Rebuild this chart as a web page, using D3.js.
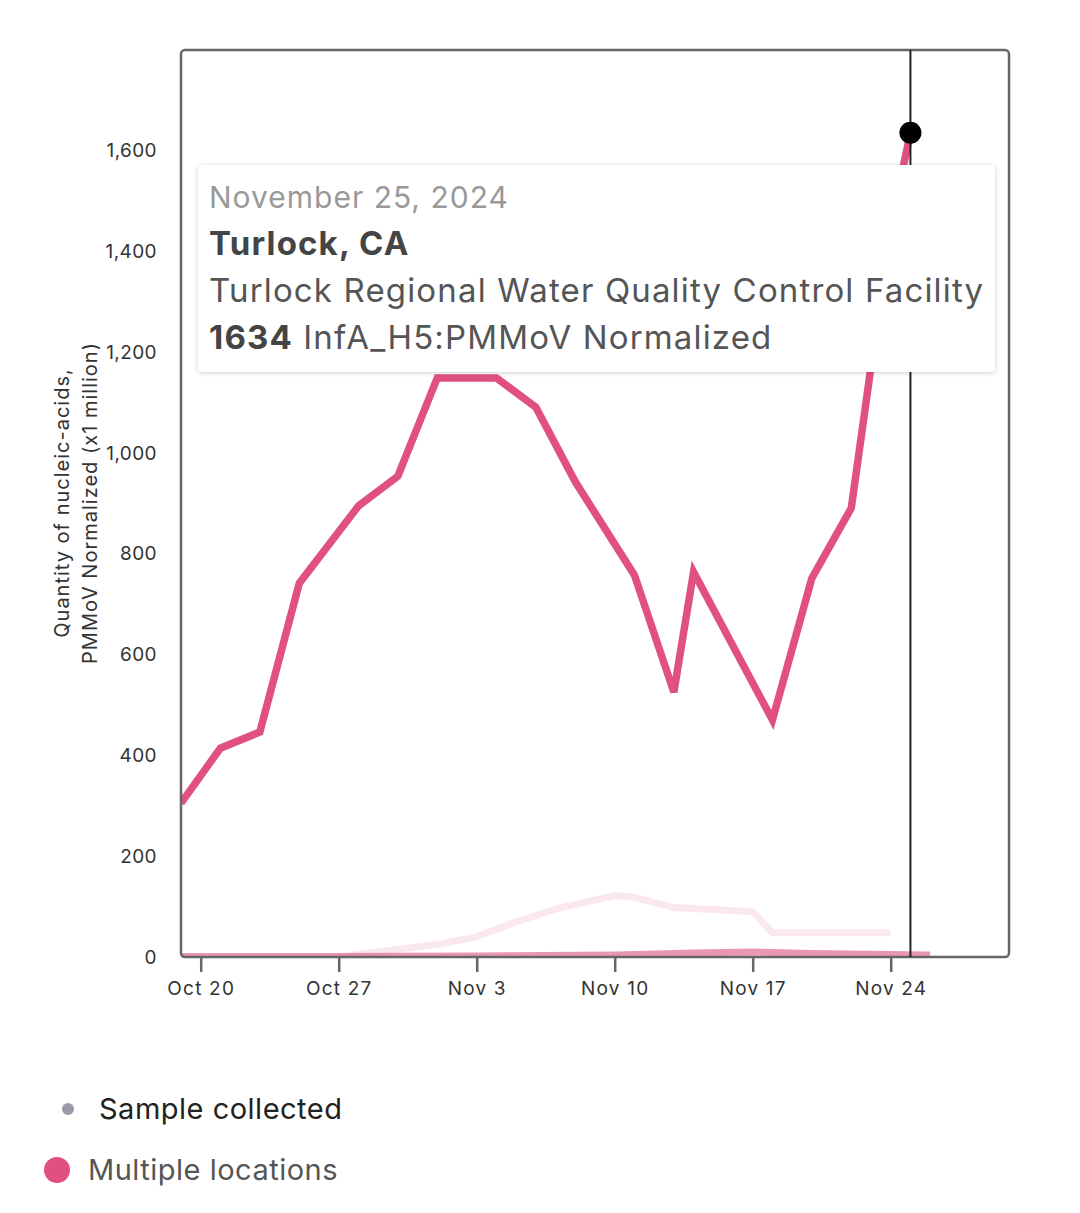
<!DOCTYPE html>
<html>
<head>
<meta charset="utf-8">
<style>
  body { margin: 0; background: #fff; }
  svg { display: block; font-family: Inter, "Open Sans", sans-serif; }
</style>
</head>
<body>
<svg width="1080" height="1213"></svg>
<script src="https://cdn.jsdelivr.net/npm/d3@7"></script>
<script>
    // main site (Turlock)
    const mainDates = ["2024-10-19","2024-10-21","2024-10-23","2024-10-25","2024-10-28","2024-10-30",
        "2024-11-01","2024-11-04","2024-11-06","2024-11-08","2024-11-11","2024-11-13","2024-11-14",
        "2024-11-18","2024-11-20","2024-11-22","2024-11-24","2024-11-25"];
    const mainValues = [305, 414, 446, 741, 894, 953, 1148, 1148, 1090, 942, 757, 525, 763, 470, 751, 890, 1450, 1634];

    // other sites, drawn faint
    const fadedDates = ["2024-10-27","2024-10-29","2024-11-01","2024-11-03","2024-11-05","2024-11-07",
        "2024-11-10","2024-11-11","2024-11-13","2024-11-17","2024-11-18","2024-11-24"];
    const fadedValues = [0, 10, 25, 40, 70, 95, 122, 118, 98, 90, 48, 48];

    const lowDates = ["2024-10-19","2024-10-27","2024-11-03","2024-11-10","2024-11-14","2024-11-17","2024-11-20","2024-11-26"];
    const lowValues = [1, 1, 2, 4, 8, 10, 7, 4];

    const yTicks = [0, 200, 400, 600, 800, 1000, 1200, 1400, 1600];
    const xTicks = ["2024-10-20","2024-10-27","2024-11-03","2024-11-10","2024-11-17","2024-11-24"];

    const hoverDate = "2024-11-25", hoverValue = 1634;

    const parse = d3.timeParse("%Y-%m-%d");
    const svg = d3.select("svg");
    const pLeft = 181, pRight = 1009, pTop = 50, pBottom = 957;

    const x = d3.scaleTime()
        .domain([parse("2024-10-19"), parse("2024-11-30")])
        .range([pLeft, pRight]);
    const y = d3.scaleLinear().domain([0, 1798]).range([pBottom, pTop]);

    const pink = "#e0517f";
    const line = d3.line().x(d => x(d[0])).y(d => y(d[1]));
    const zip = (ds, vs) => ds.map((d, i) => [parse(d), vs[i]]);

    const defs = svg.append("defs");
    // clip to plot box
    defs.append("clipPath").attr("id", "plot")
        .append("rect").attr("x", pLeft).attr("y", pTop).attr("width", pRight - pLeft).attr("height", pBottom - pTop);

    const g = svg.append("g").attr("clip-path", "url(#plot)");

    g.append("path").datum(zip(fadedDates, fadedValues))
        .attr("d", line).attr("fill", "none")
        .attr("stroke", pink).attr("stroke-opacity", 0.13).attr("stroke-width", 7);

    g.append("path").datum(zip(lowDates, lowValues))
        .attr("d", line).attr("fill", "none")
        .attr("stroke", pink).attr("stroke-opacity", 0.6).attr("stroke-width", 7);

    g.append("path").datum(zip(mainDates, mainValues))
        .attr("d", line).attr("fill", "none")
        .attr("stroke", pink).attr("stroke-width", 7.5)
        .attr("stroke-linejoin", "miter");

    // plot frame
    svg.append("rect")
        .attr("x", pLeft).attr("y", pTop)
        .attr("width", pRight - pLeft).attr("height", pBottom - pTop)
        .attr("rx", 4).attr("fill", "none")
        .attr("stroke", "#666").attr("stroke-width", 2.5);

    // y axis labels (no ticks)
    svg.append("g").selectAll("text").data(yTicks).enter().append("text")
        .attr("x", 157).attr("y", d => y(d) + 7)
        .attr("text-anchor", "end")
        .attr("font-size", 19).attr("letter-spacing", 0.4).attr("fill", "#333")
        .text(d => d3.format(",")(d));

    // x axis
    const xa = svg.append("g").attr("transform", "translate(0," + pBottom + ")")
        .call(d3.axisBottom(x).tickValues(xTicks.map(parse))
            .tickFormat(d3.timeFormat("%b %-d")).tickSize(15).tickPadding(10));
    xa.select(".domain").remove();
    xa.selectAll("line").attr("stroke", "#666").attr("stroke-width", 2.5);
    xa.selectAll("text").attr("font-size", 19).attr("letter-spacing", 1.2).attr("fill", "#333")
        .attr("font-family", "Inter, 'Open Sans', sans-serif");

    // y label
    const yl = svg.append("text")
        .attr("transform", "translate(0,503) rotate(-90)")
        .attr("text-anchor", "middle").attr("font-size", 20).attr("letter-spacing", 1)
        .attr("fill", "#333");
    yl.append("tspan").attr("x", 0).attr("y", 69).text("Quantity of nucleic-acids,");
    yl.append("tspan").attr("x", 0).attr("y", 97).text("PMMoV Normalized (x1 million)");

    // hover rule and dot
    svg.append("line")
        .attr("x1", x(parse(hoverDate))).attr("x2", x(parse(hoverDate)))
        .attr("y1", pTop).attr("y2", pBottom)
        .attr("stroke", "#222").attr("stroke-width", 2);
    svg.append("circle")
        .attr("cx", x(parse(hoverDate))).attr("cy", y(hoverValue))
        .attr("r", 11).attr("fill", "#000");

    // tooltip
    const f = defs.append("filter").attr("id", "sh").attr("x", "-5%").attr("y", "-10%").attr("width", "110%").attr("height", "125%");
    f.append("feDropShadow").attr("dx", 0).attr("dy", 1).attr("stdDeviation", 2.5)
        .attr("flood-color", "#000").attr("flood-opacity", 0.18);

    const tip = svg.append("g");
    tip.append("rect").attr("x", 198).attr("y", 165).attr("width", 797).attr("height", 207)
        .attr("rx", 4).attr("fill", "#fff").attr("filter", "url(#sh)");
    tip.append("text").attr("x", 209).attr("y", 208).attr("font-size", 30).attr("letter-spacing", 1)
        .attr("fill", "#999").text("November 25, 2024");
    tip.append("text").attr("x", 209).attr("y", 255).attr("font-size", 33).attr("letter-spacing", 1.15)
        .attr("font-weight", 700).attr("fill", "#444").text("Turlock, CA");
    tip.append("text").attr("x", 209).attr("y", 302).attr("font-size", 33).attr("letter-spacing", 1.15)
        .attr("fill", "#555").text("Turlock Regional Water Quality Control Facility");
    const t4 = tip.append("text").attr("x", 209).attr("y", 349).attr("font-size", 33).attr("letter-spacing", 1.15)
        .attr("fill", "#555");
    t4.append("tspan").attr("font-weight", 700).attr("fill", "#444").text(hoverValue);
    t4.append("tspan").text(" InfA_H5:PMMoV Normalized");

    // legend
    svg.append("circle").attr("cx", 68).attr("cy", 1109).attr("r", 6).attr("fill", "#9a9aa8");
    svg.append("text").attr("x", 99).attr("y", 1119).attr("font-size", 29).attr("letter-spacing", 0.5)
        .attr("fill", "#222").text("Sample collected");
    svg.append("circle").attr("cx", 57).attr("cy", 1170).attr("r", 13).attr("fill", pink);
    svg.append("text").attr("x", 88).attr("y", 1180).attr("font-size", 29).attr("letter-spacing", 0.5)
        .attr("fill", "#555").text("Multiple locations");
</script>
</body>
</html>
